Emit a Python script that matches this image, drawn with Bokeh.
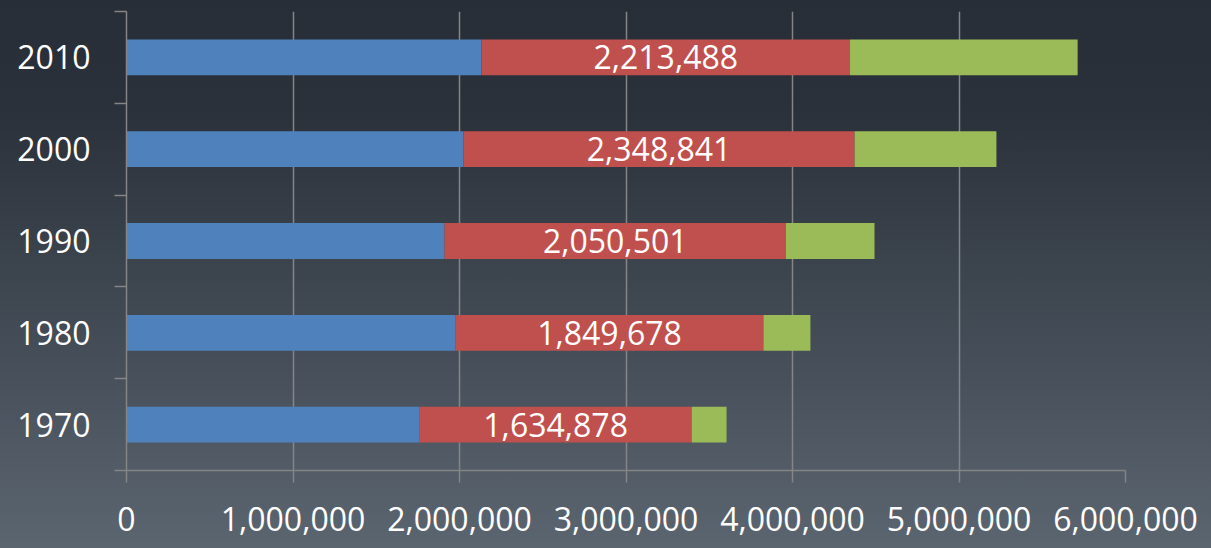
from bokeh.plotting import figure
from bokeh.models import (ColumnDataSource, Range1d, FixedTicker, NumeralTickFormatter,
                          GlobalInlineStyleSheet)
from bokeh.core.properties import value
from bokeh.embed import file_html
from bokeh.resources import INLINE

years = ["1970", "1980", "1990", "2000", "2010"]
blue_vals = [1760000, 1976000, 1910000, 2024000, 2132000]
red_vals = [1634878, 1849678, 2050501, 2348841, 2213488]
green_vals = [209000, 282000, 532000, 852000, 1367000]
x_ticks = [0, 1000000, 2000000, 3000000, 4000000, 5000000, 6000000]

FONT = "Open Sans"
GRID = "#858585"

ypos = [i + 0.5 for i in range(len(years))]
source = ColumnDataSource(dict(
    y=ypos,
    blue=blue_vals,
    red=red_vals,
    green=green_vals,
    mid=[b + r / 2 for b, r in zip(blue_vals, red_vals)],
    label=[f"{r:,}" for r in red_vals],
))

p = figure(width=1211, height=548, output_backend="svg", toolbar_location=None,
           x_range=Range1d(0, 6000000), y_range=Range1d(0, len(years)),
           min_border_left=126, min_border_right=86, min_border_top=11,
           min_border_bottom=78)
p.background_fill_alpha = 0
p.border_fill_alpha = 0
p.outline_line_color = None

p.stylesheets = [GlobalInlineStyleSheet(css=(
    "html,body{margin:0;padding:0;overflow:hidden;}"
    "html{height:100%;background:linear-gradient(to bottom,#272e37 0%,#2a313a 20%,#5b6570 100%) no-repeat;}"
    "body{background:transparent;}"))]

p.hbar_stack(["blue", "red", "green"], y="y", height=0.39,
             color=["#4f81bd", "#c0504d", "#9bbb59"], line_color=None, source=source)

p.text(x="mid", y="y", text="label", source=source, text_align="center",
       text_baseline="middle", text_color="white", text_font_size="32px",
       text_font=value(FONT))

# x axis
p.xaxis.ticker = FixedTicker(ticks=x_ticks, minor_ticks=[])
p.xaxis.formatter = NumeralTickFormatter(format="0,0")
p.xaxis.axis_line_color = GRID
p.xaxis.axis_line_width = 1.5
p.xaxis.major_tick_line_color = GRID
p.xaxis.major_tick_line_width = 1.5
p.xaxis.major_tick_out = 12
p.xaxis.major_tick_in = 0
p.xaxis.minor_tick_line_color = None
p.xaxis.major_label_text_color = "white"
p.xaxis.major_label_text_font = FONT
p.xaxis.major_label_text_font_size = "32px"
p.xaxis.major_label_standoff = 24

# y axis
p.yaxis.ticker = FixedTicker(ticks=ypos, minor_ticks=list(range(len(years) + 1)))
p.yaxis.major_label_overrides = {yv: yr for yv, yr in zip(ypos, years)}
p.yaxis.axis_line_color = GRID
p.yaxis.axis_line_width = 1.5
p.yaxis.major_tick_line_color = None
p.yaxis.major_tick_out = 0
p.yaxis.major_tick_in = 0
p.yaxis.minor_tick_line_color = GRID
p.yaxis.minor_tick_line_width = 1.5
p.yaxis.minor_tick_out = 12
p.yaxis.minor_tick_in = 0
p.yaxis.major_label_text_color = "white"
p.yaxis.major_label_text_font = FONT
p.yaxis.major_label_text_font_size = "32px"
p.yaxis.major_label_standoff = 24

p.xgrid.grid_line_color = GRID
p.xgrid.grid_line_width = 1.5
p.ygrid.grid_line_color = None

open("out.html", "w").write(file_html(p, INLINE))
